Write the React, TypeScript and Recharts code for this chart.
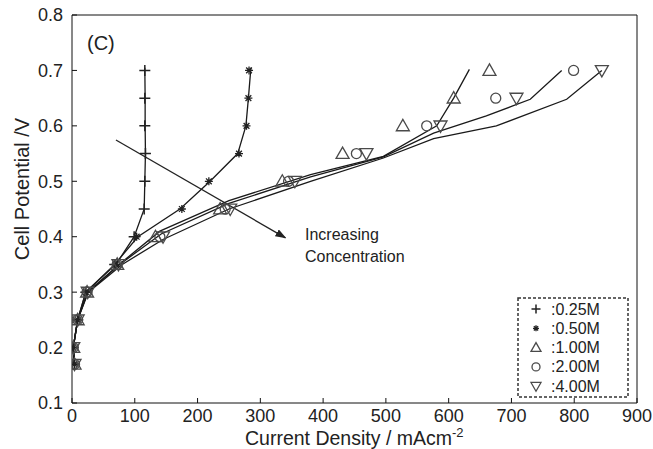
import React from 'react'
import { ComposedChart, Line, Scatter, XAxis, YAxis, Legend } from 'recharts'

// axis ticks
const X_TICKS = [0, 100, 200, 300, 400, 500, 600, 700, 800, 900]
const Y_TICKS = [0.1, 0.2, 0.3, 0.4, 0.5, 0.6, 0.7, 0.8]

const CONCENTRATIONS = ['0.25M', '0.50M', '1.00M', '2.00M', '4.00M']

// measured points: cell potential levels (V) and current density (mA/cm2) per concentration
const POT_LEVELS = [0.17, 0.2, 0.25, 0.3, 0.35, 0.4, 0.45, 0.5, 0.55, 0.6, 0.65, 0.7]
const I_025 = [4, 2, 9, 22, 68, 99, 115, 116, 117, 116, 116, 116]
const I_050 = [4, 2, 9, 22, 70, 103, 175, 218, 266, 278, 281, 282]
const I_100 = [4, 2, 9, 24, 72, 133, 236, 335, 431, 527, 608, 665]
const I_200 = [4, 2, 9, 24, 72, 140, 244, 345, 453, 565, 675, 799]
const I_400 = [4, 2, 9, 25, 74, 145, 252, 355, 469, 587, 708, 844]

// model curves
const FIT_025_I = [4, 2, 9, 22, 70, 99, 115, 116, 117, 116.5, 116.5, 116]
const FIT_025_V = [0.17, 0.2, 0.25, 0.3, 0.35, 0.4, 0.45, 0.5, 0.55, 0.6, 0.65, 0.705]
const FIT_050_I = [4, 2, 9, 22, 68, 105, 172, 220, 264, 277, 281, 285]
const FIT_050_V = [0.17, 0.2, 0.25, 0.3, 0.35, 0.4, 0.45, 0.5, 0.55, 0.6, 0.65, 0.705]
const FIT_100_I = [4, 2, 9, 25, 75, 140, 250, 380, 496, 581, 608, 633]
const FIT_100_V = [0.17, 0.2, 0.25, 0.3, 0.35, 0.41, 0.465, 0.512, 0.545, 0.6, 0.65, 0.702]
const FIT_200_I = [4, 2, 9, 25, 76, 142, 250, 380, 496, 576, 660, 700, 730, 780]
const FIT_200_V = [0.17, 0.2, 0.25, 0.3, 0.35, 0.405, 0.46, 0.508, 0.544, 0.587, 0.618, 0.635, 0.648, 0.7]
const FIT_400_I = [4, 2, 9, 26, 80, 145, 250, 380, 496, 576, 676, 788, 844]
const FIT_400_V = [0.17, 0.2, 0.25, 0.3, 0.35, 0.395, 0.45, 0.5, 0.542, 0.577, 0.6, 0.648, 0.7]

// "increasing concentration" arrow
const ARROW_I = [70, 340]
const ARROW_V = [0.5745, 0.398]

const FONT = '"Liberation Sans", Arial, Helvetica, sans-serif'
const LINE_COLOR = '#1a1a1a'
const MARK_COLOR = '#4a4a4a'

const toPoints = (xs: number[], ys: number[]) => xs.map((x, i) => ({ x, y: ys[i] }))
const measured = (xs: number[]) => POT_LEVELS.map((y, i) => ({ x: xs[i], y }))

type ShapeProps = { cx?: number; cy?: number; s?: number }

const Plus = ({ cx = 0, cy = 0, s = 5.5 }: ShapeProps) => (
  <path d={`M${cx - s},${cy}H${cx + s}M${cx},${cy - s}V${cy + s}`} stroke="#222" strokeWidth={1.5} fill="none" />
)
const Star = ({ cx = 0, cy = 0, s = 4 }: ShapeProps) => {
  const d = s * 0.72
  return (
    <path
      d={`M${cx - s},${cy}H${cx + s}M${cx},${cy - s}V${cy + s}M${cx - d},${cy - d}L${cx + d},${cy + d}M${cx - d},${cy + d}L${cx + d},${cy - d}`}
      stroke="#222"
      strokeWidth={1.3}
      fill="none"
    />
  )
}
const TriUp = ({ cx = 0, cy = 0, s = 6.5 }: ShapeProps) => (
  <path d={`M${cx},${cy - s}L${cx + s},${cy + s * 0.75}L${cx - s},${cy + s * 0.75}Z`} stroke={MARK_COLOR} strokeWidth={1.3} fill="none" />
)
const Ring = ({ cx = 0, cy = 0, s = 5 }: ShapeProps) => (
  <circle cx={cx} cy={cy} r={s} stroke={MARK_COLOR} strokeWidth={1.3} fill="none" />
)
const TriDown = ({ cx = 0, cy = 0, s = 6.5 }: ShapeProps) => (
  <path d={`M${cx},${cy + s}L${cx + s},${cy - s * 0.75}L${cx - s},${cy - s * 0.75}Z`} stroke={MARK_COLOR} strokeWidth={1.3} fill="none" />
)

const SHAPES = [Plus, Star, TriUp, Ring, TriDown]
const LEGEND_SIZES = [4.5, 3, 5, 4, 5]

const LegendBox = () => (
  <svg width={112} height={101} style={{ display: 'block' }}>
    <rect x={1} y={1} width={110} height={99} fill="#fff" stroke="#333" strokeWidth={1.5} strokeDasharray="3 2" />
    {CONCENTRATIONS.map((c, i) => {
      const S = SHAPES[i]
      const y = 12 + i * 19.3
      return (
        <g key={c}>
          <S cx={19} cy={y} s={LEGEND_SIZES[i]} />
          <text x={34} y={y} dominantBaseline="central" fontSize={16} fontFamily={FONT} fill="#222">
            :{c}
          </text>
        </g>
      )
    })}
  </svg>
)

const YTitle = () => (
  <text transform="translate(22,189) rotate(-90)" textAnchor="middle" dominantBaseline="central" fontSize={20} fontFamily={FONT} fill="#222">
    Cell Potential /V
  </text>
)

const XTitle = () => (
  <text x={245} y={445} fontSize={19.5} fontFamily={FONT} fill="#222">
    Current Density / mAcm
    <tspan fontSize={13} dy={-8}>-2</tspan>
  </text>
)

const tickStyle = { fontSize: 18, fontFamily: FONT, fill: '#222' }

export default function App() {
  const fits = [
    toPoints(FIT_025_I, FIT_025_V),
    toPoints(FIT_050_I, FIT_050_V),
    toPoints(FIT_100_I, FIT_100_V),
    toPoints(FIT_200_I, FIT_200_V),
    toPoints(FIT_400_I, FIT_400_V),
  ]
  const points = [measured(I_025), measured(I_050), measured(I_100), measured(I_200), measured(I_400)]

  return (
    <div style={{ position: 'absolute', left: 0, top: 0, background: '#fff' }}>
      <ComposedChart width={653} height={449} margin={{ top: 14, right: 15, bottom: 0, left: 0 }}>
        <defs>
          <marker id="arrowHead" markerWidth={11} markerHeight={8} refX={10} refY={4} orient="auto" markerUnits="userSpaceOnUse">
            <path d="M0,0 L11,4 L0,8 z" fill="#222" />
          </marker>
        </defs>
        <XAxis
          dataKey="x"
          type="number"
          domain={[0, 900]}
          ticks={X_TICKS}
          allowDataOverflow
          height={46}
          tickSize={-5}
          tickMargin={11}
          tick={tickStyle}
          stroke="#111"
          label={<XTitle />}
        />
        <XAxis
          xAxisId="top"
          orientation="top"
          dataKey="x"
          type="number"
          domain={[0, 900]}
          ticks={X_TICKS}
          height={1}
          tickSize={-5}
          tickFormatter={() => ''}
          stroke="#111"
        />
        <YAxis
          dataKey="y"
          type="number"
          domain={[0.1, 0.8]}
          ticks={Y_TICKS}
          allowDataOverflow
          width={72}
          tickSize={-5}
          tickMargin={14}
          tick={tickStyle}
          tickFormatter={(v: number) => v.toFixed(1)}
          stroke="#111"
          label={<YTitle />}
        />
        <YAxis
          yAxisId="right"
          orientation="right"
          type="number"
          domain={[0.1, 0.8]}
          ticks={Y_TICKS}
          width={1}
          tickSize={-5}
          tickFormatter={() => ''}
          stroke="#111"
        />
        {fits.map((d, i) => (
          <Line
            key={'fit' + i}
            data={d}
            dataKey="y"
            type="linear"
            stroke={LINE_COLOR}
            strokeWidth={1.3}
            dot={false}
            activeDot={false}
            isAnimationActive={false}
            legendType="none"
          />
        ))}
        {points.map((d, i) => {
          const S = SHAPES[i]
          return (
            <Scatter
              key={'pts' + i}
              name={CONCENTRATIONS[i]}
              data={d}
              dataKey="y"
              shape={(p: any) => <S cx={p.cx} cy={p.cy} />}
              isAnimationActive={false}
            />
          )
        })}
        <Line
          data={toPoints(ARROW_I, ARROW_V)}
          dataKey="y"
          type="linear"
          stroke="#222"
          strokeWidth={1.3}
          dot={false}
          activeDot={false}
          markerEnd="url(#arrowHead)"
          isAnimationActive={false}
          legendType="none"
        />
        <Legend
          layout="vertical"
          align="center"
          verticalAlign="middle"
          content={<LegendBox />}
          wrapperStyle={{ position: 'absolute', left: 517, top: 297, width: 112, height: 101 }}
        />
        <text x={87} y={50} fontSize={20} fontFamily={FONT} fill="#222">
          (C)
        </text>
        <text x={305} y={240} fontSize={16} fontFamily={FONT} fill="#222">
          Increasing
        </text>
        <text x={305} y={262} fontSize={16} fontFamily={FONT} fill="#222">
          Concentration
        </text>
      </ComposedChart>
    </div>
  )
}
